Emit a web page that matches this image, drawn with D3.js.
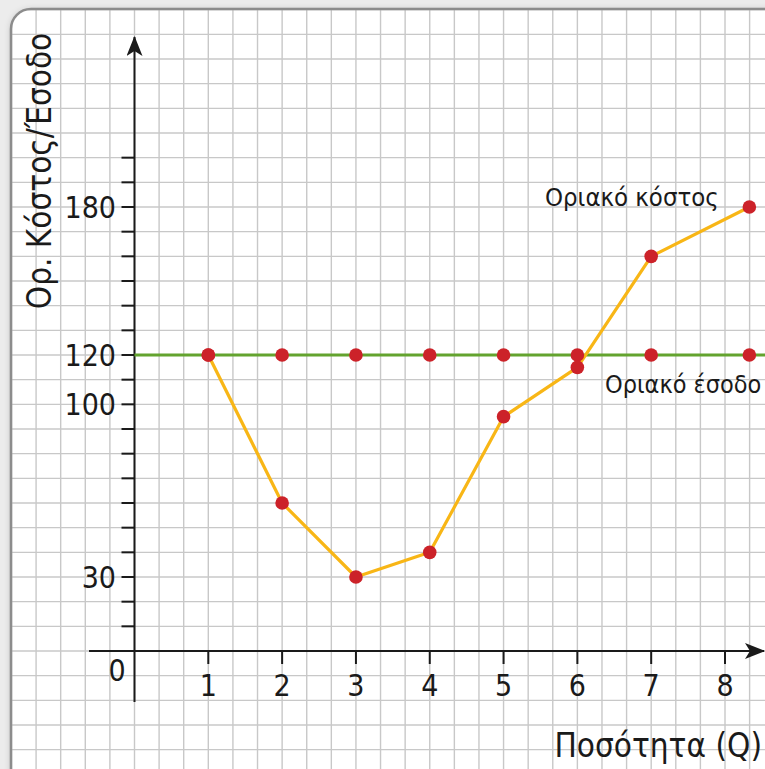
<!DOCTYPE html>
<html>
<head>
<meta charset="utf-8">
<script src="https://cdn.jsdelivr.net/npm/d3@7"></script>
<style>
  body { margin: 0; background: #ececec; }
  svg { display: block; }
  text { font-family: "DejaVu Sans Condensed", "DejaVu Sans", sans-serif; fill: #1a1a1a; }
</style>
</head>
<body>
<div id="chart"></div>
<script>
// data
const quantity = [1, 2, 3, 4, 5, 6, 7, 8.33];
const marginalCost = [120, 60, 30, 40, 95, 115, 160, 180];
const marginalRevenue = [120, 120, 120, 120, 120, 120, 120, 120];
const xTickValues = [1, 2, 3, 4, 5, 6, 7, 8];
const yTickLabels = [30, 100, 120, 180];
const costLabel = "Οριακό κόστος";
const revenueLabel = "Οριακό έσοδο";
const xTitle = "Ποσότητα (Q)";
const yTitle = "Ορ. Κόστος/Έσοδο";

const width = 765, height = 769;

const x = d3.scaleLinear().domain([0, 8]).range([134.5, 725]);
const y = d3.scaleLinear().domain([0, 180]).range([651, 207]);

const svg = d3.select("#chart").append("svg")
  .attr("width", width)
  .attr("height", height);

const defs = svg.append("defs");
defs.append("clipPath").attr("id", "card")
  .append("rect")
  .attr("x", 11).attr("y", 9)
  .attr("width", width + 40).attr("height", height + 40)
  .attr("rx", 20);

const shadow = defs.append("filter").attr("id", "shadow")
  .attr("x", "-5%").attr("y", "-5%").attr("width", "110%").attr("height", "110%");
shadow.append("feDropShadow")
  .attr("dx", 0).attr("dy", 1).attr("stdDeviation", 3)
  .attr("flood-color", "#000").attr("flood-opacity", 0.25);

const arrow = defs.append("marker").attr("id", "arrow")
  .attr("viewBox", "0 0 20 16")
  .attr("refX", 19).attr("refY", 8)
  .attr("markerWidth", 20).attr("markerHeight", 16)
  .attr("markerUnits", "userSpaceOnUse")
  .attr("orient", "auto");
arrow.append("path").attr("d", "M0,0 L20,8 L0,16 L5,8 Z").attr("fill", "#1a1a1a");

// card background
svg.append("rect")
  .attr("x", 11).attr("y", 9)
  .attr("width", width + 40).attr("height", height + 40)
  .attr("rx", 20)
  .attr("fill", "#fff")
  .attr("filter", "url(#shadow)");

// graph paper grid: one cell = 1/3 unit of Q and 10 units of cost
const grid = svg.append("g").attr("clip-path", "url(#card)");
const xStep = 1 / 3;
const gridX = d3.range(-6, 28).map(k => k * xStep);
const gridY = d3.range(-6, 28).map(k => k * 10);

grid.selectAll("line.gx")
  .data(gridX)
  .join("line")
  .attr("class", "gx")
  .attr("x1", d => x(d)).attr("x2", d => x(d))
  .attr("y1", 0).attr("y2", height)
  .attr("stroke", "#c8c8c8")
  .attr("stroke-width", 1.4);

grid.selectAll("line.gy")
  .data(gridY)
  .join("line")
  .attr("class", "gy")
  .attr("y1", d => y(d)).attr("y2", d => y(d))
  .attr("x1", 0).attr("x2", width)
  .attr("stroke", "#c8c8c8")
  .attr("stroke-width", 1.4);

// card border
svg.append("rect")
  .attr("x", 11).attr("y", 9)
  .attr("width", width + 40).attr("height", height + 40)
  .attr("rx", 20)
  .attr("fill", "none")
  .attr("stroke", "#8c8c8c")
  .attr("stroke-width", 2.5);

// axes
svg.append("line")
  .attr("x1", 89).attr("x2", 764)
  .attr("y1", y(0)).attr("y2", y(0))
  .attr("stroke", "#1a1a1a").attr("stroke-width", 2)
  .attr("marker-end", "url(#arrow)");

svg.append("line")
  .attr("x1", x(0)).attr("x2", x(0))
  .attr("y1", 702).attr("y2", 37)
  .attr("stroke", "#1a1a1a").attr("stroke-width", 2)
  .attr("marker-end", "url(#arrow)");

// y ticks every 10, x ticks every 1
svg.selectAll("line.yt")
  .data(d3.range(10, 201, 10))
  .join("line")
  .attr("class", "yt")
  .attr("x1", x(0) - 13).attr("x2", x(0))
  .attr("y1", d => y(d)).attr("y2", d => y(d))
  .attr("stroke", "#1a1a1a").attr("stroke-width", 2);

svg.selectAll("line.xt")
  .data(xTickValues)
  .join("line")
  .attr("class", "xt")
  .attr("x1", d => x(d)).attr("x2", d => x(d))
  .attr("y1", y(0)).attr("y2", y(0) + 13)
  .attr("stroke", "#1a1a1a").attr("stroke-width", 2);

svg.selectAll("text.xl")
  .data(xTickValues)
  .join("text")
  .attr("class", "xl")
  .attr("x", d => x(d))
  .attr("y", 696)
  .attr("text-anchor", "middle")
  .attr("font-size", 30)
  .text(d => d);

svg.selectAll("text.yl")
  .data(yTickLabels)
  .join("text")
  .attr("class", "yl")
  .attr("x", 116)
  .attr("y", d => y(d) + 11)
  .attr("text-anchor", "end")
  .attr("font-size", 30)
  .text(d => d);

svg.append("text")
  .attr("x", 117).attr("y", 681)
  .attr("text-anchor", "middle")
  .attr("font-size", 30)
  .text("0");

// titles
svg.append("text")
  .attr("x", 762).attr("y", 757)
  .attr("text-anchor", "end")
  .attr("font-size", 33)
  .text(xTitle);

svg.append("text")
  .attr("transform", "translate(51,171) rotate(-90)")
  .attr("text-anchor", "middle")
  .attr("font-size", 33)
  .text(yTitle);

// marginal revenue (green)
const mr = quantity.map((q, i) => ({ q, v: marginalRevenue[i] }));
const mc = quantity.map((q, i) => ({ q, v: marginalCost[i] }));

svg.append("line")
  .attr("x1", x(0)).attr("x2", width)
  .attr("y1", y(marginalRevenue[0])).attr("y2", y(marginalRevenue[0]))
  .attr("stroke", "#63a32e").attr("stroke-width", 3);

// marginal cost (orange)
const line = d3.line().x(d => x(d.q)).y(d => y(d.v));
svg.append("path")
  .datum(mc)
  .attr("d", line)
  .attr("fill", "none")
  .attr("stroke", "#f8b616")
  .attr("stroke-width", 3.2)
  .attr("stroke-linejoin", "round");

svg.selectAll("circle.mr")
  .data(mr)
  .join("circle")
  .attr("class", "mr")
  .attr("cx", d => x(d.q)).attr("cy", d => y(d.v))
  .attr("r", 6.8)
  .attr("fill", "#cc2229");

svg.selectAll("circle.mc")
  .data(mc)
  .join("circle")
  .attr("class", "mc")
  .attr("cx", d => x(d.q)).attr("cy", d => y(d.v))
  .attr("r", 6.8)
  .attr("fill", "#cc2229");

// curve labels
svg.append("text")
  .attr("x", 545).attr("y", 206)
  .attr("font-size", 25.5)
  .text(costLabel);

svg.append("text")
  .attr("x", 605).attr("y", 393)
  .attr("font-size", 25)
  .text(revenueLabel);
</script>
</body>
</html>
